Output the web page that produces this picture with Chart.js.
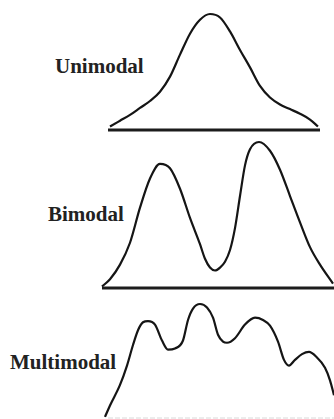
<!DOCTYPE html>
<html>
  <head>
    <script src="https://cdn.jsdelivr.net/npm/chart.js"></script>
    <style>
      body { margin: 0; background: #fff; width: 334px; height: 419px; overflow: hidden; position: relative; }
      canvas { position: absolute; }
      .label {
        position: absolute;
        font-family: "Liberation Serif", "Times New Roman", serif;
        font-weight: bold;
        font-size: 21px;
        line-height: 21px;
        color: #222;
        white-space: nowrap;
      }
    </style>
  </head>
  <body>
    <div class="label" style="left:55px; top:56px">Unimodal</div>
    <div class="label" style="left:48px; top:204px">Bimodal</div>
    <div class="label" style="left:10px; top:352px">Multimodal</div>

    <canvas id="uni" width="220" height="128" style="left:104px; top:8px"></canvas>
    <canvas id="bi" width="236" height="158" style="left:98px; top:136px"></canvas>
    <canvas id="multi" width="234" height="121" style="left:100px; top:298px"></canvas>

    <script>
      // unimodal curve
      const uniX = [0, 5, 10, 15, 20, 25, 30, 35, 40, 45, 50, 55, 60, 65, 70, 75, 80, 85, 90, 95, 100, 104];
      const uniY = [3, 8, 13, 19, 25, 33, 46, 65, 83, 95, 100, 97, 85, 69, 54, 38, 28, 22, 18, 14, 9, 3];

      // bimodal curve
      const biX = [0, 4, 9, 14, 19, 24, 29, 34, 39, 44, 49, 51.5, 54, 56.5, 59, 61.5, 64, 66.5, 69, 71.5, 74, 78.5, 84, 89, 94, 99, 104, 109, 115.5];
      const biY = [1, 6, 16, 31, 55, 75, 85, 82, 68, 48, 30, 20, 14, 12, 14, 18, 26, 41, 63, 84, 95, 100, 94, 81, 63, 45, 28, 16, 3];

      // multimodal curve
      const multiX = [0.5, 3, 8, 11.5, 14.5, 17, 19.5, 22, 25.5, 29, 32, 35.5, 39.5, 42, 44.5, 48, 51.5, 54.5, 57, 59.5, 61.5, 65.5, 70.5, 75.5, 79.5, 83, 87, 90, 92.5, 95.5, 99, 102.5, 106, 110.5, 113, 115];
      const multiY = [1, 11, 29, 46, 64, 77, 84, 85, 82, 68, 60, 61, 68, 86, 96, 100, 97, 88, 73, 67, 66, 70, 82, 88, 86, 81, 67, 51, 46, 51, 56, 58, 54, 44, 33, 20];

      const toPoints = (xs, ys) => xs.map((x, i) => ({ x: x, y: ys[i] }));

      function drawCurve(id, xs, ys, xMin, xMax, pad, baseStyle) {
        const ctx = document.getElementById(id).getContext('2d');
        new Chart(ctx, {
          type: 'line',
          data: {
            datasets: [
              {
                data: toPoints(xs, ys),
                borderColor: '#151515',
                borderWidth: 2.2,
                pointRadius: 0,
                cubicInterpolationMode: 'monotone',
                fill: false,
                clip: false,
              },
              {
                // baseline
                data: [{ x: baseStyle.from, y: 0 }, { x: xMax, y: 0 }],
                borderColor: baseStyle.color,
                borderWidth: baseStyle.width,
                borderDash: baseStyle.dash,
                pointRadius: 0,
                tension: 0,
                fill: false,
                clip: false,
              },
            ],
          },
          options: {
            responsive: false,
            animation: false,
            layout: { padding: pad },
            plugins: {
              legend: { display: false },
              tooltip: { enabled: false },
            },
            scales: {
              x: { type: 'linear', min: xMin, max: xMax, display: false },
              y: { min: 0, max: 100, display: false },
            },
          },
        });
      }

      drawCurve('uni', uniX, uniY, -1, 105,
        { left: 4, right: 4, top: 6, bottom: 6 },
        { from: -1, color: '#1c1c1c', width: 3, dash: [] });

      drawCurve('bi', biX, biY, 0, 116,
        { left: 4, right: 0, top: 6, bottom: 6 },
        { from: 0, color: '#1c1c1c', width: 3, dash: [] });

      drawCurve('multi', multiX, multiY, 0, 115,
        { left: 4, right: 0, top: 6, bottom: 1 },
        { from: 2, color: '#d8d8d8', width: 1, dash: [5, 2] });
    </script>
  </body>
</html>
